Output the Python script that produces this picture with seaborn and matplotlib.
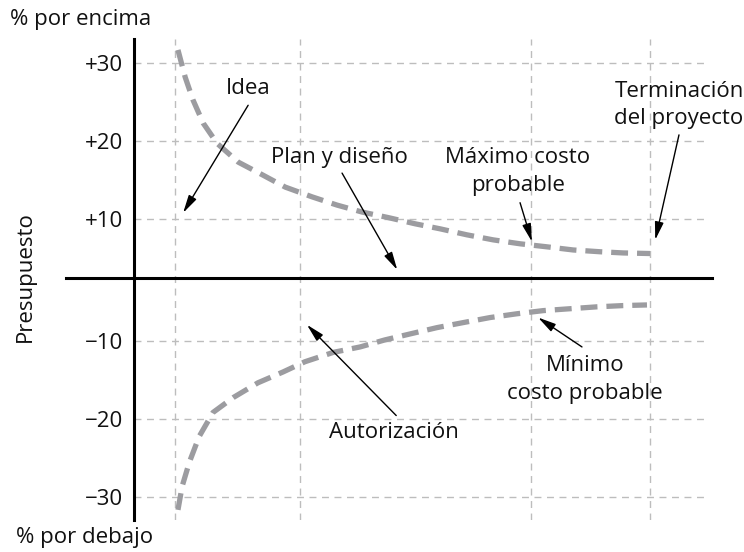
import numpy as np
import pandas as pd
import matplotlib
matplotlib.use("Agg")
import matplotlib.pyplot as plt
import seaborn as sns

# ---------------- data ----------------
phase_names = ["Idea", "Autorización", "Máximo costo probable", "Terminación del proyecto"]
phase_x = [7.95, 32.2, 76.9, 100.0]

upper_x = [8.5, 9.9, 11.4, 13.4, 16.1, 20.2, 24.8, 29.3, 34.5, 39.3, 44.2, 49.2,
           54.5, 59.3, 64.5, 69.6, 74.8, 80.0, 85.1, 90.3, 94.8, 100.0]
upper_y = [31.7, 28.2, 25.3, 22.3, 19.7, 17.3, 15.7, 14.1, 12.85, 11.8, 10.9, 10.2,
           9.2, 8.36, 7.35, 6.5, 5.84, 5.33, 4.8, 4.5, 4.3, 4.2]

lower_x = [8.5, 9.3, 10.7, 12.6, 15.3, 19.2, 24.0, 28.9, 33.1, 38.6, 43.8, 48.6,
           53.5, 58.7, 63.8, 69.0, 74.2, 79.3, 84.5, 89.7, 94.8, 99.4]
lower_y = [-31.6, -28.6, -25.5, -22.2, -19.1, -17.2, -15.3, -13.9, -12.6, -11.4, -10.7, -9.75,
           -8.8, -7.8, -7.0, -6.2, -5.6, -5.1, -4.8, -4.5, -4.3, -4.2]

ytick_vals = [30, 20, 10, -10, -20, -30]
ytick_labels = ["+30", "+20", "+10", "\u221210", "\u221220", "\u221230"]

# ---------------- style ----------------
sns.set_theme(style="white")
plt.rcParams["font.family"] = ["Open Sans", "DejaVu Sans"]
FS = 16

# scale: band between -10 and +10 is drawn compressed, like the original diagram
def fwd(y):
    y = np.asarray(y, dtype=float)
    return np.where(y > 10, y - 10 + 7.62,
           np.where(y >= 0, y * 0.762,
           np.where(y >= -10, y * 0.808, y + 10 - 8.08)))

def inv(u):
    u = np.asarray(u, dtype=float)
    return np.where(u > 7.62, u + 2.38,
           np.where(u >= 0, u / 0.762,
           np.where(u >= -8.08, u / 0.808, u - 1.92)))

fig = plt.figure(figsize=(7.44, 5.52), dpi=100)
ax = fig.add_axes([66 / 744, 1 - 520 / 552, (712 - 66) / 744, (520 - 39) / 552])
ax.set_yscale("function", functions=(fwd, inv))
ax.set_xlim(-13.2, 112.0)
ax.set_ylim(-32.9, 33.1)

grid_kw = dict(color="#bdbdbd", lw=1.0, linestyle=(0, (5, 4)), zorder=1)
ax.hlines(ytick_vals, 0, 110.7, **grid_kw)
for xv in phase_x:
    ax.axvline(xv, **grid_kw)

curve_color = "#9c9ca0"
df_up = pd.DataFrame({"x": upper_x, "y": upper_y})
df_lo = pd.DataFrame({"x": lower_x, "y": lower_y})
for d in (df_up, df_lo):
    sns.lineplot(data=d, x="x", y="y", ax=ax, color=curve_color, lw=3.8,
                 linestyle=(0, (3.2, 1.7)), sort=False, zorder=3)

# axes through the origin
for s in ("top", "right"):
    ax.spines[s].set_visible(False)
ax.spines["left"].set_position(("data", 0))
ax.spines["bottom"].set_position(("data", 0))
for s in ("left", "bottom"):
    ax.spines[s].set_linewidth(2.2)
    ax.spines[s].set_color("black")
    ax.spines[s].set_zorder(4)
ax.set_xticks([])
ax.set_yticks(ytick_vals)
ax.set_yticklabels(ytick_labels, fontsize=FS, color="#111111")
ax.tick_params(axis="y", length=0, pad=8)
ax.set_xlabel("")
ax.set_ylabel("")

# annotations
arrow_kw = dict(arrowstyle="-|>,head_length=0.9,head_width=0.22", color="black",
                lw=1.0, shrinkA=0, shrinkB=0, mutation_scale=12)
txt_kw = dict(fontsize=FS, ha="center", va="center", color="#111111", linespacing=1.4)

notes = [
    ("Idea", (22.1, 26.8), (22.1, 24.6), (9.5, 10.8)),
    ("Plan y diseño", (39.7, 17.9), (40.3, 15.9), (51.0, 1.46)),
    ("Máximo costo\nprobable", (74.4, 16.1), (74.8, 12.1), (77.1, 6.2)),
    ("Terminación\ndel proyecto", (105.6, 24.6), (105.6, 20.8), (101.0, 6.5)),
    ("Autorización", (50.4, -21.7), (50.8, -19.5), (33.5, -7.35)),
    ("Mínimo\ncosto probable", (87.4, -14.9), (86.8, -10.7), (78.3, -6.2)),
]
for label, tpos, tail, head in notes:
    ax.text(*tpos, label, **txt_kw)
    ax.annotate("", xy=head, xytext=tail, arrowprops=arrow_kw, zorder=5)

fig.text(10 / 744, 1 - 20 / 552, "% por encima", fontsize=FS, ha="left", va="center", color="#111111")
fig.text(16 / 744, 1 - 537 / 552, "% por debajo", fontsize=FS, ha="left", va="center", color="#111111")
fig.text(25 / 744, 1 - 277 / 552, "Presupuesto", fontsize=FS, ha="center", va="center",
         rotation=90, color="#111111")

fig.savefig("out.png", dpi=100)
